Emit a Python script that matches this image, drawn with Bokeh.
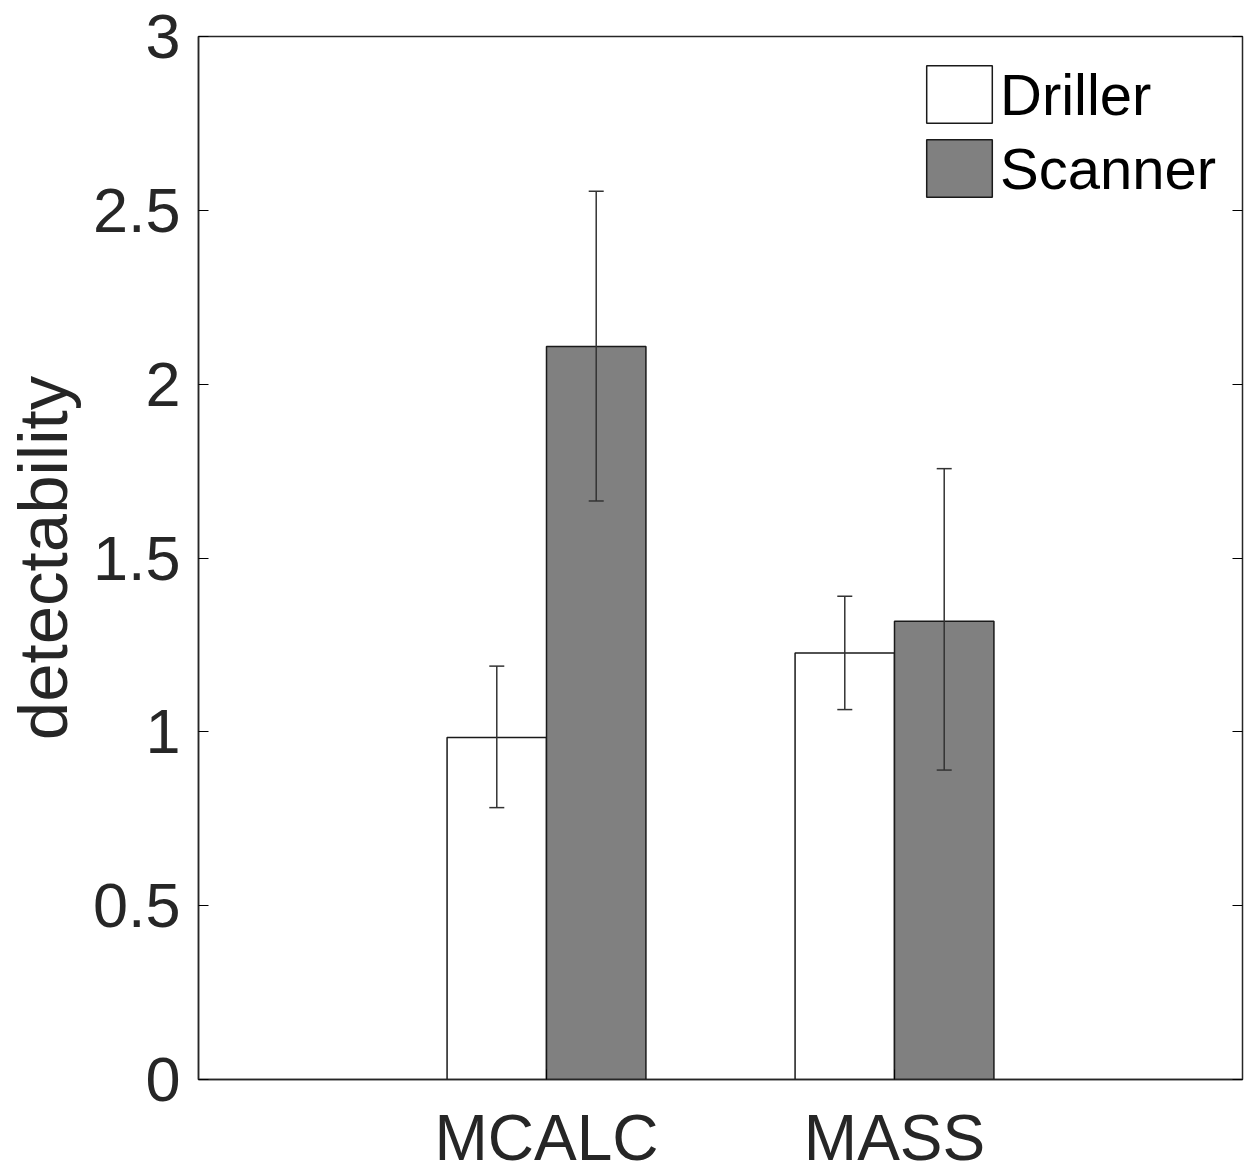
from bokeh.plotting import figure
from bokeh.models import (ColumnDataSource, Whisker, TeeHead, LinearAxis, FixedTicker,
                          Range1d, Legend, LegendItem)
from bokeh.embed import file_html
from bokeh.resources import INLINE

categories = ["MCALC", "MASS"]
series = ["Driller", "Scanner"]
driller = [0.984, 1.227]
scanner = [2.108, 1.318]
driller_lower = [0.782, 1.064]
driller_upper = [1.189, 1.390]
scanner_lower = [1.664, 0.890]
scanner_upper = [2.555, 1.757]
y_ticks = [0, 0.5, 1, 1.5, 2, 2.5, 3]
y_tick_labels = ["0", "0.5", "1", "1.5", "2", "2.5", "3"]

FONT = "Liberation Sans"
AX = "#262626"
group_w = 0.5714
bar_w = group_w / 2
centers = [i + 1 for i in range(len(categories))]

src_d = ColumnDataSource(dict(x=[c - bar_w / 2 for c in centers], top=driller,
                              lower=driller_lower, upper=driller_upper))
src_s = ColumnDataSource(dict(x=[c + bar_w / 2 for c in centers], top=scanner,
                              lower=scanner_lower, upper=scanner_upper))

p = figure(frame_width=1044, frame_height=1043, output_backend="svg", toolbar_location=None,
           x_range=Range1d(0, 3), y_range=Range1d(0, 3),
           min_border_left=198, min_border_right=9, min_border_top=36, min_border_bottom=90)
p.background_fill_color = "white"
p.border_fill_color = "white"
p.grid.visible = False
p.outline_line_color = AX
p.outline_line_width = 1.5

r_d = p.vbar(x="x", top="top", width=bar_w, source=src_d, fill_color="white",
             line_color="#1a1a1a", line_width=1.5)
r_s = p.vbar(x="x", top="top", width=bar_w, source=src_s, fill_color="#808080",
             line_color="#1a1a1a", line_width=1.5)

for src in (src_d, src_s):
    w = Whisker(source=src, base="x", upper="upper", lower="lower", level="overlay",
                line_color="#333333", line_width=1.5,
                upper_head=TeeHead(size=15, line_color="#333333", line_width=1.5),
                lower_head=TeeHead(size=15, line_color="#333333", line_width=1.5))
    p.add_layout(w)

# x axis
xa = p.xaxis[0]
xa.ticker = FixedTicker(ticks=centers)
xa.major_label_overrides = {c: n for c, n in zip(centers, categories)}
xa.major_label_text_font = FONT
xa.major_label_text_font_size = "64px"
xa.major_label_text_color = AX
xa.major_label_standoff = 22
xa.major_tick_in = 10
xa.major_tick_out = 0
xa.minor_tick_line_color = None
xa.axis_line_color = AX
xa.axis_line_width = 1.5

# y axis
ya = p.yaxis[0]
ya.ticker = FixedTicker(ticks=y_ticks)
ya.major_label_overrides = {t: l for t, l in zip(y_ticks, y_tick_labels)}
ya.major_label_text_font = FONT
ya.major_label_text_font_size = "63px"
ya.major_label_text_color = AX
ya.major_label_standoff = 18
ya.major_tick_in = 10
ya.major_tick_out = 0
ya.minor_tick_line_color = None
ya.axis_line_color = AX
ya.axis_line_width = 1.5
ya.axis_label = "detectability"
ya.axis_label_text_font = FONT
ya.axis_label_text_font_size = "69px"
ya.axis_label_text_font_style = "normal"
ya.axis_label_text_color = AX
ya.axis_label_standoff = 8

ra = LinearAxis(ticker=FixedTicker(ticks=y_ticks), major_label_text_font_size="0px",
                major_tick_in=10, major_tick_out=0, minor_tick_line_color=None,
                axis_line_color=AX, major_label_standoff=0)
ra.major_label_text_alpha = 0
p.add_layout(ra, "right")

legend = Legend(items=[LegendItem(label=series[0], renderers=[r_d]),
                       LegendItem(label=series[1], renderers=[r_s])],
                location=(720, 875), glyph_width=82, glyph_height=72, label_height=72,
                spacing=2, padding=0, margin=0, label_standoff=-8,
                label_text_font=FONT, label_text_font_size="58px",
                label_text_color="black", border_line_alpha=0, background_fill_alpha=0)
p.add_layout(legend)

open("out.html", "w").write(file_html(p, INLINE))
